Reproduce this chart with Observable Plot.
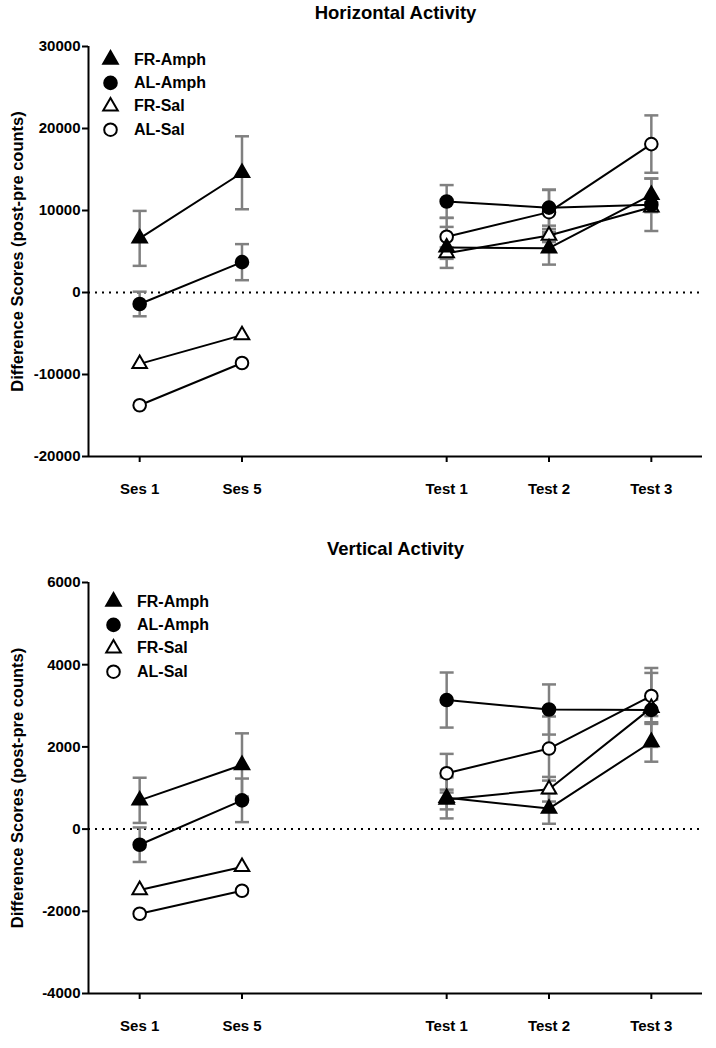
<!DOCTYPE html>
<html><head><meta charset="utf-8">
<script src="https://cdn.jsdelivr.net/npm/d3@7"></script>
<script src="https://cdn.jsdelivr.net/npm/@observablehq/plot@0.6"></script>
<style>
body{margin:0;background:#fff;}
#chart{width:716px;height:1048px;position:relative;}
svg{display:block;}
</style></head><body><div id="chart"></div>
<script>
// ---- data ----
const xLabels = ["Ses 1", "Ses 5", "Test 1", "Test 2", "Test 3"];
const xPositions = [0, 1, 3, 4, 5];
const phases = ["ses", "ses", "test", "test", "test"];
const groups = ["FR-Amph", "AL-Amph", "FR-Sal", "AL-Sal"];

// Horizontal activity: means and SEM per group
const horizFRAmph = [6600, 14600, 5500, 5400, 11900];
const horizALAmph = [-1400, 3700, 11100, 10350, 10700];
const horizFRSal = [-8700, -5200, 4800, 6950, 10400];
const horizALSal = [-13750, -8600, 6800, 9800, 18100];
const horizFRAmphSem = [3350, 4450, 2500, 2000, 2000];
const horizALAmphSem = [1500, 2200, 2000, 2200, 3200];
const horizFRSalSem = [null, null, 700, 800, 600];
const horizALSalSem = [null, null, 2300, 2700, 3500];

// Vertical activity: means and SEM per group
const vertFRAmph = [700, 1560, 760, 500, 2120];
const vertALAmph = [-380, 700, 3140, 2910, 2900];
const vertFRSal = [-1480, -920, 720, 970, 2950];
const vertALSal = [-2060, -1500, 1360, 1960, 3240];
const vertFRAmphSem = [550, 770, 500, 370, 480];
const vertALAmphSem = [420, 530, 670, 610, 900];
const vertFRSalSem = [null, null, 240, 300, 200];
const vertALSalSem = [null, null, 470, 780, 680];

const horizTicks = [-20000, -10000, 0, 10000, 20000, 30000];
const vertTicks = [-4000, -2000, 0, 2000, 4000, 6000];

// ---- build tables ----
function buildRows(meansList, semList) {
  const rows = [];
  groups.forEach((g, gi) => {
    meansList[gi].forEach((m, i) => {
      rows.push({group: g, x: xPositions[i], phase: phases[i], mean: m, sem: semList[gi][i]});
    });
  });
  return rows;
}
const horizRows = buildRows([horizFRAmph, horizALAmph, horizFRSal, horizALSal],
  [horizFRAmphSem, horizALAmphSem, horizFRSalSem, horizALSalSem]);
const vertRows = buildRows([vertFRAmph, vertALAmph, vertFRSal, vertALSal],
  [vertFRAmphSem, vertALAmphSem, vertFRSalSem, vertALSalSem]);

const style = {
  "FR-Amph": {symbol: "triangle", fill: "black", r: 5.4},
  "AL-Amph": {symbol: "circle", fill: "black", r: 6.3},
  "FR-Sal": {symbol: "triangle", fill: "white", r: 5.4},
  "AL-Sal": {symbol: "circle", fill: "white", r: 6.3}
};
const capSymbol = {draw(ctx, size) { const r = Math.sqrt(size / Math.PI); ctx.moveTo(-r, 0); ctx.lineTo(r, 0); }};
const FONT = "'Liberation Sans', Arial, Helvetica, sans-serif";

function makePanel({title, rows, ticks, height, marginTop, marginBottom, legendDx, legendDy}) {
  const yDomain = [d3.min(ticks), d3.max(ticks)];
  const xDomain = [-0.5, 5.5];
  const withSem = rows.filter(d => d.sem != null);
  const caps = withSem.flatMap(d => [{x: d.x, y: d.mean + d.sem}, {x: d.x, y: d.mean - d.sem}]);
  const marks = [
    Plot.ruleY([0], {stroke: "black", strokeWidth: 2, strokeDasharray: "2,5"}),
    Plot.ruleX(withSem, {x: "x", y1: d => d.mean - d.sem, y2: d => d.mean + d.sem, stroke: "#808080", strokeWidth: 2.5}),
    Plot.dot(caps, {x: "x", y: "y", symbol: capSymbol, r: 7, stroke: "#808080", strokeWidth: 2.5}),
    Plot.line(rows, {x: "x", y: "mean", z: d => d.group + d.phase, stroke: "black", strokeWidth: 2}),
  ];
  groups.slice().reverse().forEach(g => {
    const s = style[g];
    marks.push(Plot.dot(rows.filter(d => d.group === g), {x: "x", y: "mean", symbol: s.symbol, r: s.r, fill: s.fill, stroke: "black", strokeWidth: 2}));
  });
  groups.forEach((g, i) => {
    const s = style[g];
    marks.push(Plot.dot([g], {frameAnchor: "top-left", dx: legendDx, dy: legendDy + i * 23.4, symbol: s.symbol, r: s.r, fill: s.fill, stroke: "black", strokeWidth: 2}));
    marks.push(Plot.text([g], {text: d => d, frameAnchor: "top-left", dx: legendDx + 23.5, dy: legendDy + i * 23.4, textAnchor: "start", lineAnchor: "middle", fontSize: 16, fontWeight: "bold", fill: "black"}));
  });
  marks.push(
    Plot.ruleX([xDomain[0]], {stroke: "black", strokeWidth: 2}),
    Plot.ruleY([yDomain[0]], {stroke: "black", strokeWidth: 2}),
    Plot.axisY({ticks, tickFormat: d => String(d), tickSize: 6, tickPadding: 2, fontSize: 15, fontWeight: "bold", strokeWidth: 2, label: null}),
    Plot.axisX({ticks: xPositions, tickFormat: d => xLabels[xPositions.indexOf(d)], tickSize: 6, tickPadding: 21, fontSize: 15, fontWeight: "bold", strokeWidth: 2, label: null}),
    Plot.text([title], {text: d => d, frameAnchor: "top", dy: -33, textAnchor: "middle", lineAnchor: "middle", fontSize: 18.5, fontWeight: "bold", fill: "black"}),
    Plot.text(["Difference Scores (post-pre counts)"], {text: d => d, frameAnchor: "left", dx: -71, rotate: -90, textAnchor: "middle", lineAnchor: "middle", fontSize: 16.5, fontWeight: "bold", fill: "black"})
  );
  return Plot.plot({
    width: 716, height, marginTop, marginBottom, marginLeft: 88, marginRight: 14,
    x: {domain: xDomain},
    y: {domain: yDomain},
    style: {fontFamily: FONT, color: "black", background: "white", overflow: "visible"},
    marks
  });
}

const chart = document.getElementById("chart");
chart.appendChild(makePanel({title: "Horizontal Activity", rows: horizRows, ticks: horizTicks, height: 522, marginTop: 46, marginBottom: 66, legendDx: 22, legendDy: 13}));
chart.appendChild(makePanel({title: "Vertical Activity", rows: vertRows, ticks: vertTicks, height: 526, marginTop: 60, marginBottom: 55, legendDx: 25, legendDy: 19}));
</script>
</body></html>
